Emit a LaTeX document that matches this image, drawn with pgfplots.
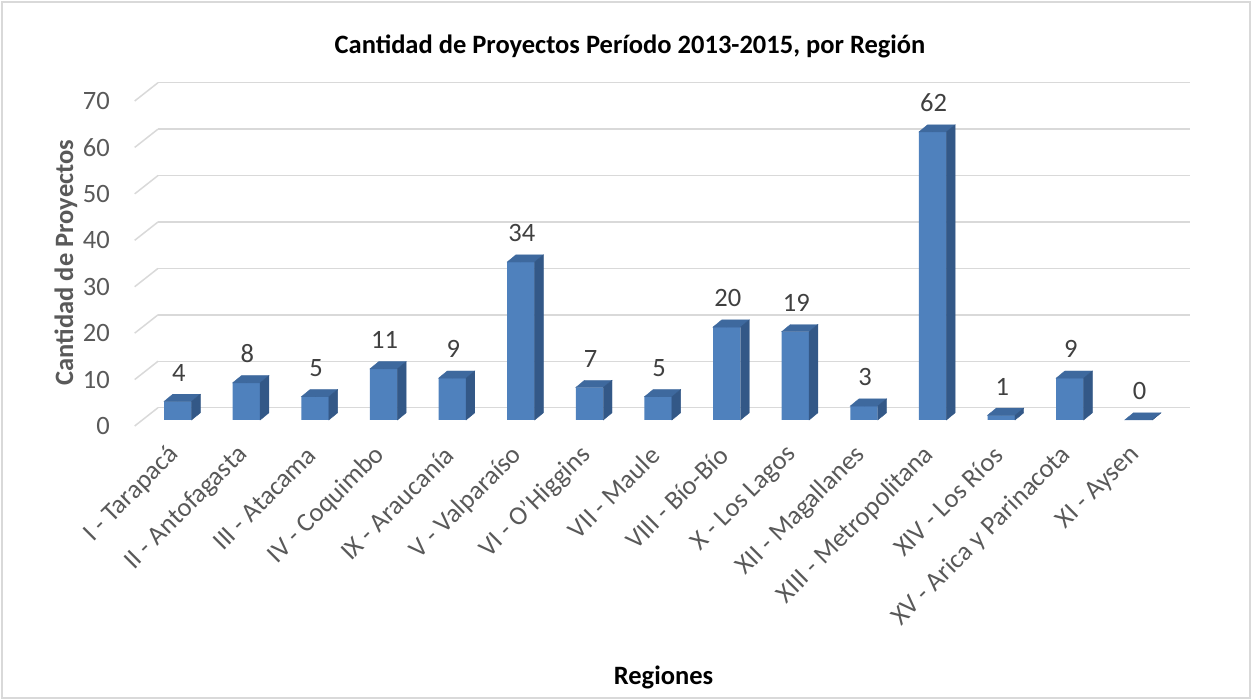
\documentclass[border=0pt]{standalone}
\usepackage{fontspec}
\setmainfont{Carlito}
\usepackage{pgfplots}
\usepackage{pgfplotstable}
\pgfplotsset{compat=1.18}
\definecolor{barfront}{HTML}{4F81BD}
\definecolor{bartop}{HTML}{3E699E}
\definecolor{barside}{HTML}{335887}
\definecolor{gridgray}{HTML}{D9D9D9}
\definecolor{ticktxt}{HTML}{595959}
\definecolor{labtxt}{HTML}{404040}

% proyectos por region, 2013-2015
\pgfplotstableread{
x v
0 4
1 8
2 5
3 11
4 9
5 34
6 7
7 5
8 20
9 19
10 3
11 62
12 1
13 9
14 0
}\datos

\begin{document}
\begin{tikzpicture}[x=1pt,y=1pt]
\useasboundingbox (0,0) rectangle (1252,700);
\draw[gridgray, line width=1.5pt] (2,2) rectangle (1250,698);

% pared del fondo: grilla + diagonales
\begin{axis}[at={(158pt,292.3pt)}, anchor=south west, scale only axis,
  width=1032pt, height=325pt, xmin=0, xmax=1, ymin=0, ymax=70,
  ytick={0,10,...,70}, xtick=\empty, ymajorgrids,
  grid style={gridgray, line width=1.5pt}, axis line style={draw=none},
  major tick length=0pt, clip=false,
  yticklabel style={anchor=east, inner sep=0pt, xshift=-48pt, yshift=-18.3pt,
    font=\fontsize{26.5}{30}\selectfont, text=ticktxt},
  /pgf/number format/assume math mode=true]
\pgfplotsinvokeforeach{0,10,...,70}{\draw[gridgray, line width=1.5pt] (axis cs:0,#1) -- ++(-23.3pt,-18.3pt);}
\end{axis}

% barras
\begin{axis}[at={(143.5pt,280pt)}, anchor=south west, scale only axis,
  width=1029.3pt, height=325.2pt, xmin=-0.5, xmax=14.5, ymin=0, ymax=70,
  ytick=\empty, xtick={0,...,14},
  xticklabels={I - Tarapacá, II - Antofagasta, III - Atacama, IV - Coquimbo,
    IX - Araucanía, V - Valparaíso, VI - O'Higgins, VII - Maule, VIII -  Bío-Bío,
    X - Los Lagos, XII - Magallanes, XIII - Metropolitana, XIV - Los Ríos,
    XV - Arica y Parinacota, XI - Aysen},
  axis line style={draw=none}, major tick length=0pt, clip=false,
  xticklabel style={yshift=-31pt, xshift=-3pt, rotate=45, anchor=east, inner sep=0pt,
    font=\fontsize{26.5}{30}\selectfont, text=ticktxt},
  /pgf/number format/assume math mode=true]
\addplot[ybar, bar width=0.4, bar shift=0pt, fill=barfront, draw=none,
  nodes near coords, nodes near coords style={anchor=south, inner sep=0pt,
    yshift=20pt, xshift=1pt, font=\fontsize{26.5}{30}\selectfont, text=labtxt}]
  table[x=x, y=v]{\datos};
\addplot[scatter, only marks, mark=*, mark size=0pt,
  visualization depends on={rawy \as \val},
  scatter/@pre marker code/.code={%
    \fill[bartop] (-13.75pt,0pt) -- (13.75pt,0pt) -- (22.5pt,7.2pt) -- (-5pt,7.2pt) -- cycle;
    \fill[barside] (13.75pt,0pt) -- (22.5pt,7.2pt) -- (22.5pt,{7.2pt-\val*4.6457pt}) -- (13.75pt,{-\val*4.6457pt}) -- cycle;
  },
  scatter/@post marker code/.code={}]
  table[x=x, y=v]{\datos};
\end{axis}

\node[anchor=base, font=\fontsize{26.5}{30}\selectfont\bfseries] at (630,646.7) {Cantidad de Proyectos Período 2013-2015, por Región};
\node[anchor=base, rotate=90, font=\fontsize{26.5}{30}\selectfont\bfseries, text=ticktxt] at (73,437.5) {Cantidad de Proyectos};
\node[anchor=base, font=\fontsize{26.5}{30}\selectfont\bfseries] at (663.5,15) {Regiones};
\end{tikzpicture}
\end{document}
